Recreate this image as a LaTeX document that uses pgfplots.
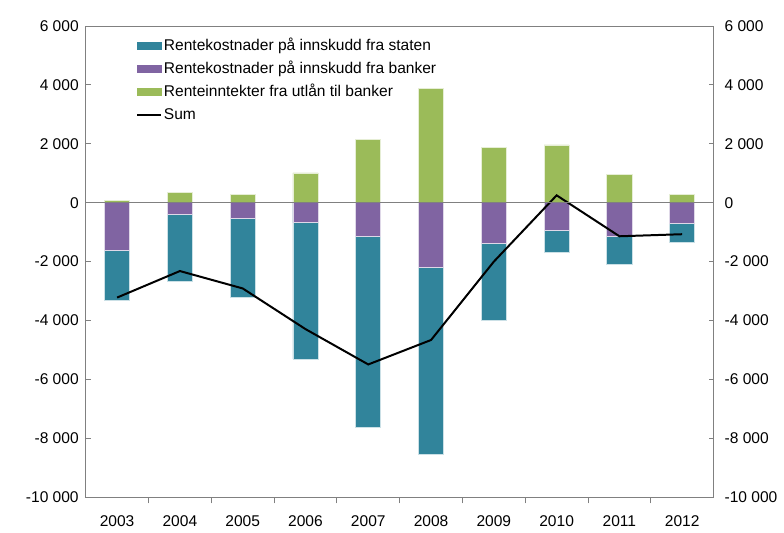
\documentclass[border=0pt]{standalone}
\usepackage{pgfplots}
\usepackage{pgfplotstable}
\usepackage{fontspec}
\setmainfont{Liberation Sans}
\pgfplotsset{compat=1.18}

\definecolor{staten}{RGB}{49,132,155}
\definecolor{banker}{RGB}{128,100,162}
\definecolor{utlaan}{RGB}{155,187,89}
\definecolor{ramme}{RGB}{128,128,128}

% x = 0..9 (2003..2012), verdier i mill. kr
\pgfplotstableread{
x staten banker utlaan sum
0 -1700 -1610 80 -3220
1 -2270 -400 340 -2320
2 -2660 -540 280 -2910
3 -4630 -680 1010 -4290
4 -6480 -1160 2160 -5490
5 -6340 -2200 3870 -4660
6 -2610 -1370 1890 -2000
7 -760 -930 1960 250
8 -920 -1160 950 -1140
9 -650 -700 280 -1070
}\data

\begin{document}
\begin{tikzpicture}[font=\fontsize{7.8}{9.2}\selectfont]
\pgfplotsset{
    felles/.style={
        width=315pt, height=236.5pt, scale only axis,
        xmin=-0.5, xmax=9.5,
        ymin=-10000, ymax=6000,
        ytick={-10000,-8000,...,6000},
        scaled y ticks=false,
        axis line style={ramme},
        every tick/.style={ramme},
        major tick length=2.5pt,
        /pgf/number format/assume math mode=true,
        /pgf/number format/1000 sep={\ },
        /pgf/number format/fixed,
    },
}
\begin{axis}[
    felles,
    name=main,
    ybar, bar width=0.4, bar shift=0pt,
    xtick={0,...,9},
    xticklabels={2003,2004,2005,2006,2007,2008,2009,2010,2011,2012},
    major x tick style={draw=none},
    minor xtick={0.5,1.5,...,8.5},
    minor x tick style={ramme},
    minor tick length=3pt,
    xtick pos=left,
    ytick pos=both,
    xticklabel style={yshift=-3pt},
    legend style={
        at={(0.07,0.99)}, anchor=north west, draw=none, fill=none,
        cells={anchor=west},
        nodes={inner sep=1pt, text height=6.8pt, text depth=1.8pt},
        row sep=1pt,
    },
]
\addplot[fill=staten, draw=white!75!staten, line width=0.4pt,
    legend image code/.code={\fill[staten] (0pt,-1.8pt) rectangle (12pt,1.8pt);}]
    table[x=x, y expr=\thisrow{staten}+\thisrow{banker}] {\data};
\addplot[fill=banker, draw=white!75!banker, line width=0.4pt,
    legend image code/.code={\fill[banker] (0pt,-1.8pt) rectangle (12pt,1.8pt);}]
    table[x=x, y=banker] {\data};
\addplot[fill=utlaan, draw=white!75!utlaan, line width=0.4pt,
    legend image code/.code={\fill[utlaan] (0pt,-1.8pt) rectangle (12pt,1.8pt);}]
    table[x=x, y=utlaan] {\data};
\addplot[sharp plot, black, line width=1pt,
    legend image code/.code={\draw[black, line width=1pt] (0pt,0pt) -- (12pt,0pt);}]
    table[x=x, y=sum] {\data};
\addplot[sharp plot, ramme, line width=0.6pt, forget plot]
    coordinates {(-0.5,0) (9.5,0)};
\legend{Rentekostnader på innskudd fra staten,
        Rentekostnader på innskudd fra banker,
        Renteinntekter fra utlån til banker,
        Sum}
\coordinate (bl) at ([shift={(-43pt,-16pt)}]rel axis cs:0,0);
\coordinate (tr) at ([shift={(34pt,13pt)}]rel axis cs:1,1);
\end{axis}
\begin{axis}[
    felles,
    hide x axis,
    axis y line*=right,
    ytick pos=right,
    yticklabel pos=right,
    yticklabel style={xshift=2pt},
]
\end{axis}
\path (bl) rectangle (tr);
\end{tikzpicture}
\end{document}
